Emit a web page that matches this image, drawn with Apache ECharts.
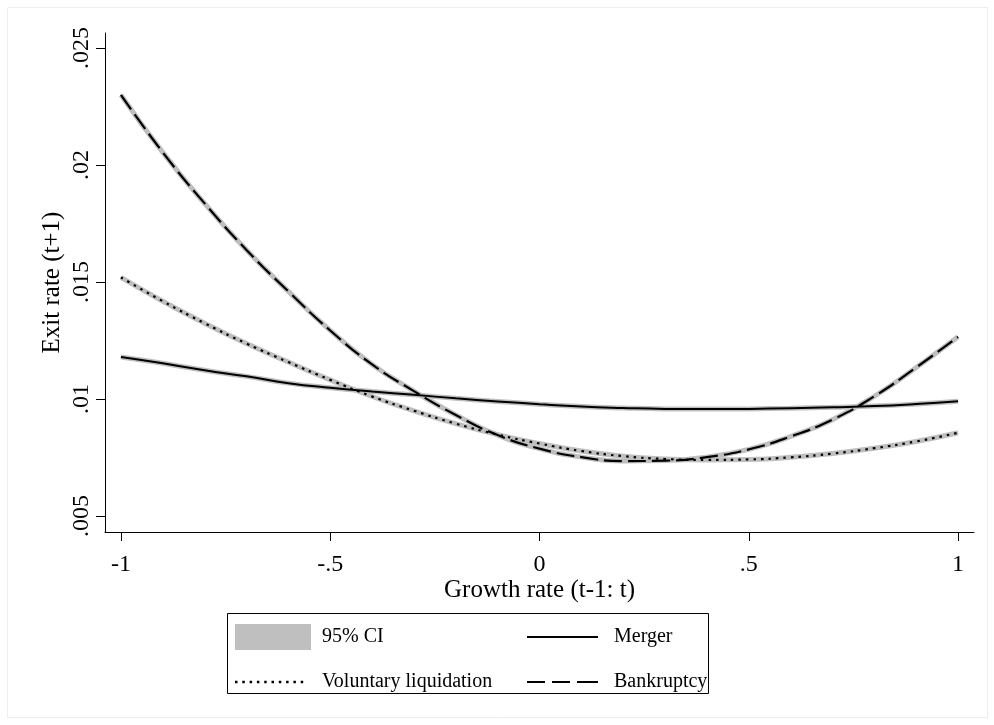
<!DOCTYPE html>
<html>
<head>
<meta charset="utf-8">
<script src="https://cdn.jsdelivr.net/npm/echarts@6/dist/echarts.min.js"></script>
<style>html,body{margin:0;padding:0;background:#fff;}#chart{width:994px;height:725px;}</style>
</head>
<body>
<div id="chart"></div>
<script>
const growth = [-1, -0.9, -0.8, -0.7, -0.6, -0.5, -0.4, -0.3, -0.2, -0.1, 0, 0.1, 0.2, 0.3, 0.4, 0.5, 0.6, 0.7, 0.8, 0.9, 1];
const merger = [0.01180, 0.01153, 0.01123, 0.01097, 0.01068, 0.01048, 0.01032, 0.01018, 0.01003, 0.00990, 0.00978, 0.00968, 0.00962, 0.00958, 0.00957, 0.00958, 0.00961, 0.00965, 0.00970, 0.00979, 0.00991];
const voluntary = [0.01520, 0.01418, 0.01324, 0.01237, 0.01158, 0.01082, 0.01011, 0.00950, 0.00895, 0.00848, 0.00810, 0.00778, 0.00756, 0.00744, 0.00740, 0.00742, 0.00751, 0.00767, 0.00790, 0.00819, 0.00856];
const bankruptcy = [0.02300, 0.02054, 0.01836, 0.01637, 0.01460, 0.01293, 0.01148, 0.01034, 0.00932, 0.00846, 0.00788, 0.00752, 0.00735, 0.00737, 0.00752, 0.00785, 0.00840, 0.00912, 0.01012, 0.01135, 0.01266];
const xTicks = [-1, -0.5, 0, 0.5, 1];
const xTickLabels = ['-1', '-.5', '0', '.5', '1'];
const yTicks = [0.005, 0.01, 0.015, 0.02, 0.025];
const yTickLabels = ['.005', '.01', '.015', '.02', '.025'];

const pairs = arr => growth.map((g, i) => [g, arr[i]]);
const lookup = (ticks, labels) => v => {
  for (let i = 0; i < ticks.length; i++) if (Math.abs(ticks[i] - v) < 1e-9) return labels[i];
  return '';
};
const FONT = 'Liberation Serif';
const CI = '#bfbfbf';

// legend key glyphs: segments [start, length] on a 26px-high box (style only)
const keyPath = (width, segs, thick) => {
  const y0 = 13 - thick / 2;
  let p = 'path://M0,0h0.01v0.01h-0.01z M' + (width - 0.01) + ',25.99h0.01v0.01h-0.01z';
  segs.forEach(s => { p += ' M' + s[0] + ',' + y0 + 'h' + s[1] + 'v' + thick + 'h-' + s[1] + 'z'; });
  return p;
};
const dots = [];
for (let i = 0; i < 10; i++) dots.push([i * 7.3, 2.5]);
const ICON_SOLID = keyPath(71, [[0, 71]], 2);
const ICON_DASH = keyPath(71, [[0, 18], [25, 18], [50, 21]], 2.2);
const ICON_DOT = keyPath(73, dots, 2.4);

const chart = echarts.init(document.getElementById('chart'), null, {renderer: 'canvas'});
const ciSeries = arr => ({
  name: '95% CI', type: 'line', data: pairs(arr), smooth: true, symbol: 'none',
  color: CI, lineStyle: {color: CI, width: 5}, z: 1, silent: true
});
const estSeries = (name, arr, type, width) => ({
  name, type: 'line', data: pairs(arr), smooth: true, symbol: 'none',
  color: '#000', lineStyle: {color: '#000', width: width, type: type}, z: 3, silent: true
});
const legendItem = (name, left, centerY, width, pad, icon, color) => ({
  orient: 'vertical', left: left, top: centerY - 13, padding: 0,
  itemWidth: width, itemHeight: 26, selectedMode: false,
  textStyle: {fontFamily: FONT, fontSize: 20, color: '#000', padding: [0, 0, 0, pad]},
  data: [{name: name, icon: icon, itemStyle: {color: color, opacity: 1, borderWidth: 0}}]
});

chart.setOption({
  animation: false,
  backgroundColor: '#fff',
  textStyle: {fontFamily: FONT, color: '#000'},
  grid: {left: 105, right: 20, top: 33, bottom: 193},
  xAxis: {
    type: 'value', min: -1.038, max: 1.038,
    name: 'Growth rate (t-1: t)', nameLocation: 'middle', nameGap: 46, nameMoveOverlap: false,
    nameTextStyle: {fontFamily: FONT, fontSize: 25, color: '#000'},
    axisLine: {show: true, onZero: false, lineStyle: {color: '#000', width: 1}},
    axisTick: {show: true, inside: false, length: 9, customValues: xTicks, lineStyle: {color: '#000'}},
    axisLabel: {customValues: xTicks, formatter: lookup(xTicks, xTickLabels), fontFamily: FONT, fontSize: 24, color: '#000', margin: 21},
    splitLine: {show: false}
  },
  yAxis: {
    type: 'value', min: 0.00432, max: 0.02564,
    name: 'Exit rate (t+1)', nameLocation: 'middle', nameGap: 40, nameRotate: 90, nameMoveOverlap: false,
    nameTextStyle: {fontFamily: FONT, fontSize: 25, color: '#000'},
    axisLine: {show: true, onZero: false, lineStyle: {color: '#000', width: 1}},
    axisTick: {show: true, inside: false, length: 9, customValues: yTicks, lineStyle: {color: '#000'}},
    axisLabel: {customValues: yTicks, formatter: lookup(yTicks, yTickLabels), rotate: 90, fontFamily: FONT, fontSize: 24, color: '#000', margin: 11},
    splitLine: {show: false}
  },
  legend: [
    legendItem('95% CI', 235, 637, 76, 6, 'rect', CI),
    legendItem('Voluntary liquidation', 235, 682, 73, 9, ICON_DOT, '#000'),
    legendItem('Merger', 527, 637, 71, 11, ICON_SOLID, '#000'),
    legendItem('Bankruptcy', 527, 682, 71, 11, ICON_DASH, '#000')
  ],
  graphic: [
    {type: 'rect', shape: {x: 7.5, y: 7.5, width: 980, height: 710}, style: {fill: 'none', stroke: '#eeeeee', lineWidth: 1}, silent: true, z: -1},
    {type: 'rect', shape: {x: 227.5, y: 613.5, width: 481, height: 80}, style: {fill: 'none', stroke: '#000', lineWidth: 1}, silent: true}
  ],
  series: [
    ciSeries(merger), ciSeries(voluntary), ciSeries(bankruptcy),
    estSeries('Merger', merger, 'solid', 2),
    estSeries('Voluntary liquidation', voluntary, [2.5, 5], 2.2),
    estSeries('Bankruptcy', bankruptcy, [18, 6], 2.2)
  ]
});
</script>
</body>
</html>
